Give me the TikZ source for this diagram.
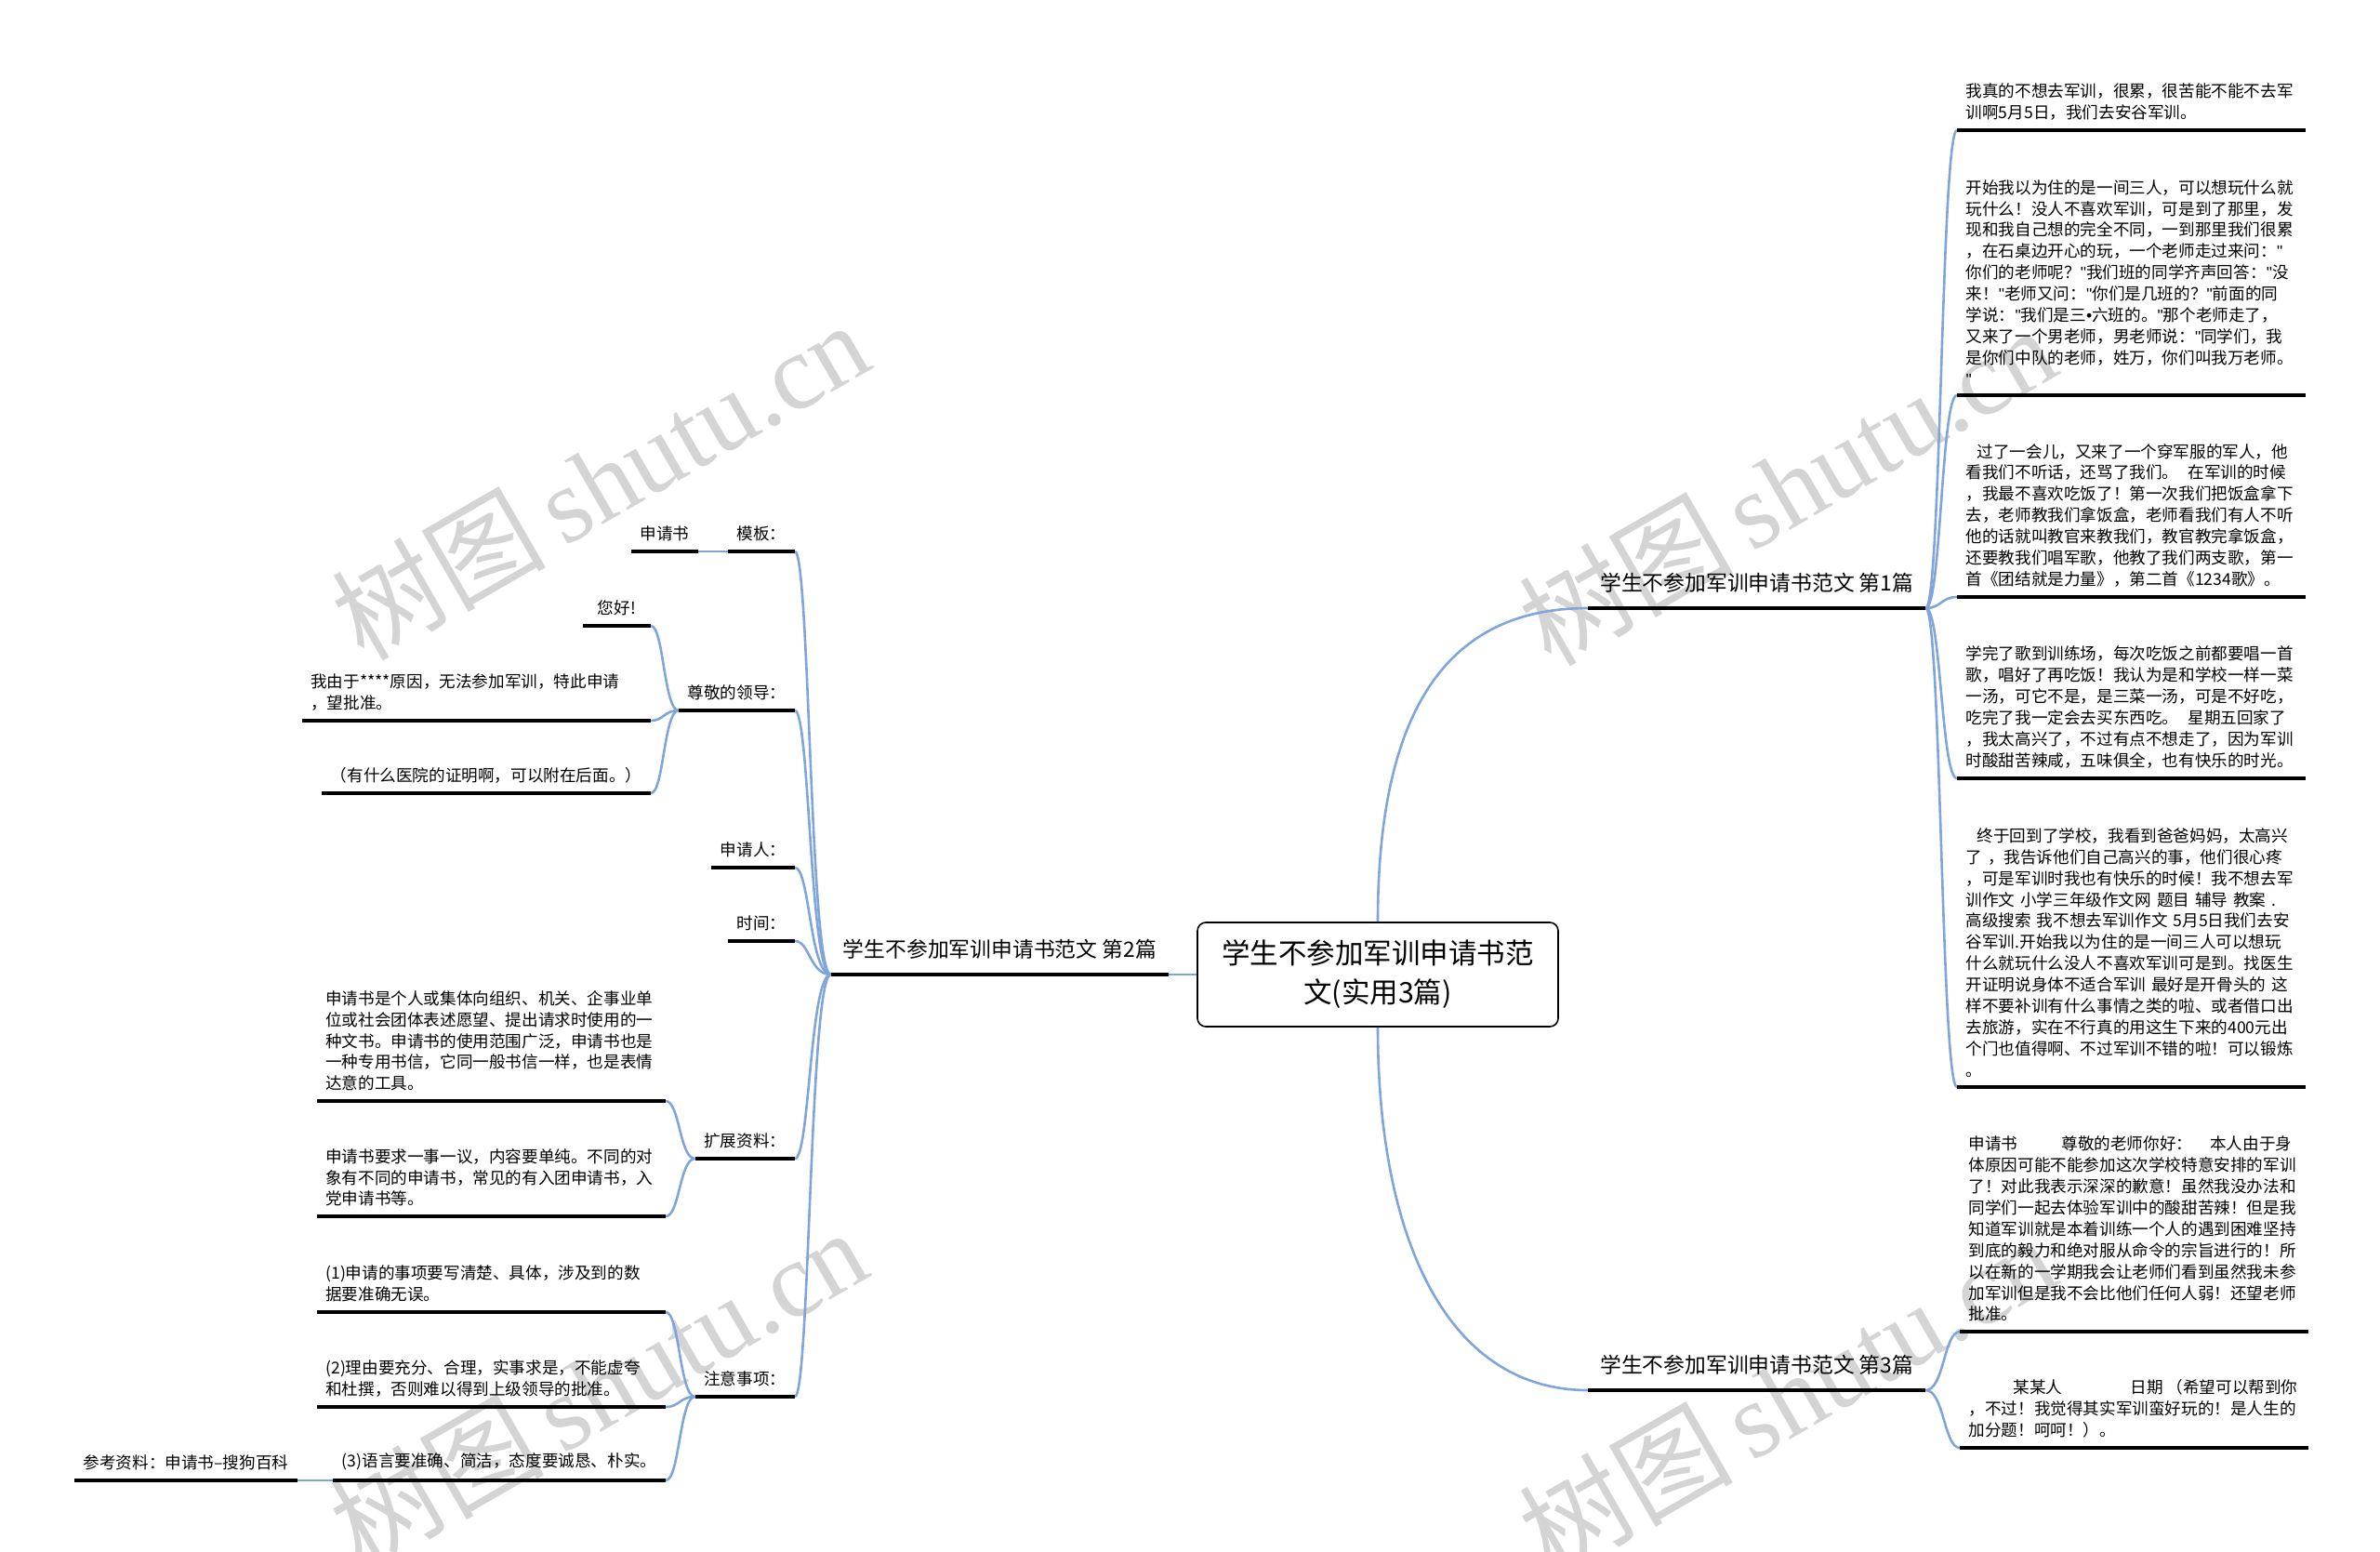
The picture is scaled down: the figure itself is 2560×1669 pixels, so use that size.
\documentclass[tikz,border=0pt]{standalone}
\usepackage{fontspec}
\setmainfont{Noto Sans CJK SC}
\newfontfamily\wmfont{Liberation Serif}
\newfontfamily\qfont{Liberation Sans}
\newcommand\qmark{{\qfont"}}
\newcommand\bulmark{{\qfont •}}
\usetikzlibrary{positioning}

\definecolor{linkblue}{RGB}{128,165,218}
\definecolor{wmgray}{RGB}{212,212,212}

\begin{document}
\begin{tikzpicture}[x=1pt,y=-1pt]
    \tikzset{
      subtopic/.style={font=\fontsize{17.6}{22.9}\selectfont, align=left, inner xsep=9.5pt, inner ysep=10.5pt},
      textblock/.style={subtopic, text width=356pt},
      bigtopic/.style={font=\fontsize{22.8}{28}\selectfont, inner xsep=13pt, inner ysep=16pt},
      centerbox/.style={draw, rounded corners=9pt, line width=1.6pt, align=center,
        font=\fontsize{30.5}{42}\selectfont, minimum width=388pt, minimum height=112pt},
      bluelink/.style={draw=linkblue, line width=2.6pt},
      uline/.style={line width=3.3pt},
      watermark/.style={text=wmgray, rotate=30, font=\fontsize{115}{115}\selectfont},
    }
    \useasboundingbox (0,0) rectangle (2560,1669);

    % watermarks
    \foreach \wx/\wy/\wn in {645/516/wma, 1922/522/wmb, 643/1492/wmc, 1922/1500/wmd}
      \node[watermark] (\wn) at (\wx,\wy) {树图\,{\wmfont shutu.cn}};

    % center and main branches
    \node[centerbox] (root) at (1482,1048) {学生不参加军训申请书范\\文(实用3篇)};
    \node[bigtopic, anchor=south west] (b1) at (1708,654) {学生不参加军训申请书范文 第1篇};
    \node[bigtopic, anchor=south east] (b2) at (1257,1048) {学生不参加军训申请书范文 第2篇};
    \node[bigtopic, anchor=south west] (b3) at (1708,1495) {学生不参加军训申请书范文 第3篇};

    % first essay
    \node[textblock, anchor=south west] (r1) at (2105,140)
      {我真的不想去军训，很累，很苦能不能不去军\\训啊5月5日，我们去安谷军训。};
    \node[textblock, anchor=south west] (r2) at (2105,425)
      {开始我以为住的是一间三人，可以想玩什么就\\玩什么！没人不喜欢军训，可是到了那里，发\\现和我自己想的完全不同，一到那里我们很累\\，在石桌边开心的玩，一个老师走过来问：\qmark\\你们的老师呢？\qmark 我们班的同学齐声回答：\qmark 没\\来！\qmark 老师又问：\qmark 你们是几班的？\qmark 前面的同\\学说：\qmark 我们是三\bulmark 六班的。\qmark 那个老师走了，\\又来了一个男老师，男老师说：\qmark 同学们，我\\是你们中队的老师，姓万，你们叫我万老师。\\\qmark};
    \node[textblock, anchor=south west] (r3) at (2105,642)
      {\hspace*{12pt}过了一会儿，又来了一个穿军服的军人，他\\看我们不听话，还骂了我们。\hspace{10pt}在军训的时候\\，我最不喜欢吃饭了！第一次我们把饭盒拿下\\去，老师教我们拿饭盒，老师看我们有人不听\\他的话就叫教官来教我们，教官教完拿饭盒，\\还要教我们唱军歌，他教了我们两支歌，第一\\首《团结就是力量》，第二首《1234歌》。};
    \node[textblock, anchor=south west] (r4) at (2105,837)
      {学完了歌到训练场，每次吃饭之前都要唱一首\\歌，唱好了再吃饭！我认为是和学校一样一菜\\一汤，可它不是，是三菜一汤，可是不好吃，\\吃完了我一定会去买东西吃。\hspace{10pt}星期五回家了\\，我太高兴了，不过有点不想走了，因为军训\\时酸甜苦辣咸，五味俱全，也有快乐的时光。};
    \node[textblock, anchor=south west] (r5) at (2105,1169)
      {\hspace*{12pt}终于回到了学校，我看到爸爸妈妈，太高兴\\了 ，我告诉他们自己高兴的事，他们很心疼\\，可是军训时我也有快乐的时候！我不想去军\\训作文 小学三年级作文网 题目 辅导 教案 .\\高级搜索 我不想去军训作文 5月5日我们去安\\谷军训.开始我以为住的是一间三人可以想玩\\什么就玩什么没人不喜欢军训可是到。找医生\\开证明说身体不适合军训 最好是开骨头的 这\\样不要补训有什么事情之类的啦、或者借口出\\去旅游，实在不行真的用这生下来的400元出\\个门也值得啊、不过军训不错的啦！可以锻炼\\。};

    % third essay
    \node[textblock, anchor=south west] (r6) at (2108,1432)
      {申请书\hspace{47pt}尊敬的老师你好：\hspace{19pt}本人由于身\\体原因可能不能参加这次学校特意安排的军训\\了！对此我表示深深的歉意！虽然我没办法和\\同学们一起去体验军训中的酸甜苦辣！但是我\\知道军训就是本着训练一个人的遇到困难坚持\\到底的毅力和绝对服从命令的宗旨进行的！所\\以在新的一学期我会让老师们看到虽然我未参\\加军训但是我不会比他们任何人弱！还望老师\\批准。};
    \node[textblock, anchor=south west] (r7) at (2108,1557)
      {\hspace*{48pt}某某人\hspace{73pt}日期\hspace{4pt}（希望可以帮到你\\，不过！我觉得其实军训蛮好玩的！是人生的\\加分题！呵呵！）。};

    % second essay
    \node[subtopic, anchor=south east] (tmpl) at (855,593) {模板：};
    \node[subtopic, anchor=south east] (sq) at (751,593) {申请书};
    \node[subtopic, anchor=south east] (lead) at (855,764) {尊敬的领导：};
    \node[subtopic, anchor=south east, minimum width=73pt] (hello) at (700,673) {您好!};
    \node[textblock, anchor=south east] (reason) at (700,775)
      {我由于****原因，无法参加军训，特此申请\\，望批准。};
    \node[subtopic, anchor=south east] (proof) at (700,853) {（有什么医院的证明啊，可以附在后面。）};
    \node[subtopic, anchor=south east] (appl) at (855,933) {申请人：};
    \node[subtopic, anchor=south east] (time) at (855,1012) {时间：};
    \node[subtopic, anchor=south east] (ext) at (855,1246) {扩展资料：};
    \node[textblock, anchor=south east] (def) at (716,1184)
      {申请书是个人或集体向组织、机关、企事业单\\位或社会团体表述愿望、提出请求时使用的一\\种文书。申请书的使用范围广泛，申请书也是\\一种专用书信，它同一般书信一样，也是表情\\达意的工具。};
    \node[textblock, anchor=south east] (req) at (716,1308)
      {申请书要求一事一议，内容要单纯。不同的对\\象有不同的申请书，常见的有入团申请书，入\\党申请书等。};
    \node[subtopic, anchor=south east] (note) at (855,1502) {注意事项：};
    \node[textblock, anchor=south east] (n1) at (716,1411)
      {(1)申请的事项要写清楚、具体，涉及到的数\\据要准确无误。};
    \node[textblock, anchor=south east] (n2) at (716,1513)
      {(2)理由要充分、合理，实事求是，不能虚夸\\和杜撰，否则难以得到上级领导的批准。};
    \node[subtopic, anchor=south east] (n3) at (716,1592) {(3)语言要准确、简洁，态度要诚恳、朴实。};
    \node[subtopic, anchor=south east] (ref) at (320,1592) {参考资料：申请书–搜狗百科};

    % bend points of the brackets
    \coordinate (j1) at (2088,654);
    \coordinate (j3) at (2091,1495);
    \coordinate (j2) at (871,1048);
    \coordinate (jl) at (714,764);
    \coordinate (je) at (731,1246);
    \coordinate (jn) at (731,1502);

    % connectors
    \draw[bluelink] (root.north) .. controls ([yshift=230pt]root.north) and ([xshift=-150pt]b1.south west) .. (b1.south west);
    \draw[bluelink] (root.south) .. controls ([yshift=-230pt]root.south) and ([xshift=-150pt]b3.south west) .. (b3.south west);
    \draw[bluelink] (root.west) -- (b2.south east);
    \foreach \c in {r1,r2,r3,r4,r5}
      \draw[bluelink] (b1.south east) .. controls (j1 |- b1.south east) and (j1 |- \c.south west) .. (\c.south west);
    \foreach \c in {r6,r7}
      \draw[bluelink] (b3.south east) .. controls (j3 |- b3.south east) and (j3 |- \c.south west) .. (\c.south west);
    \foreach \c in {tmpl,lead,appl,time,ext,note}
      \draw[bluelink] (b2.south west) .. controls (j2 |- b2.south west) and (j2 |- \c.south east) .. (\c.south east);
    \foreach \c in {hello,reason,proof}
      \draw[bluelink] (lead.south west) .. controls (jl |- lead.south west) and (jl |- \c.south east) .. (\c.south east);
    \foreach \c in {def,req}
      \draw[bluelink] (ext.south west) .. controls (je |- ext.south west) and (je |- \c.south east) .. (\c.south east);
    \foreach \c in {n1,n2,n3}
      \draw[bluelink] (note.south west) .. controls (jn |- note.south west) and (jn |- \c.south east) .. (\c.south east);
    \draw[bluelink] (tmpl.south west) -- (sq.south east);
    \draw[bluelink] (n3.south west) -- (ref.south east);

    % underlines
    \foreach \n in {b1,b2,b3,r1,r2,r3,r4,r5,r6,r7,tmpl,sq,lead,hello,reason,proof,appl,time,ext,def,req,note,n1,n2,n3,ref}
      \draw[uline] (\n.south west) -- (\n.south east);
\end{tikzpicture}
\end{document}
